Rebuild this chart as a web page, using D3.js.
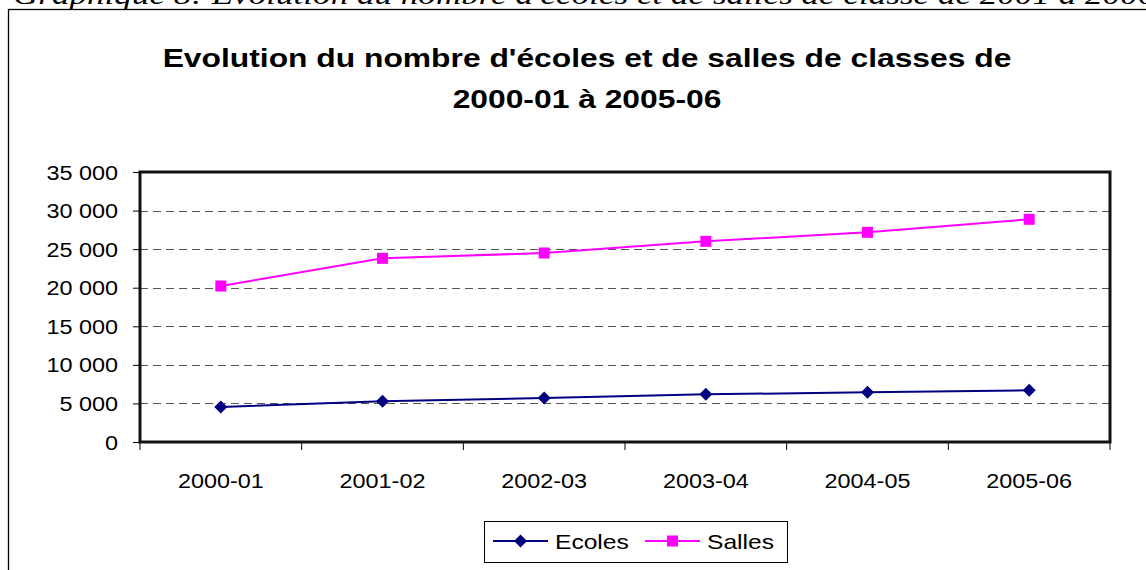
<!DOCTYPE html>
<html>
<head>
<meta charset="utf-8">
<script src="https://cdn.jsdelivr.net/npm/d3@7"></script>
<style>
  html, body { margin: 0; padding: 0; background: #fff; overflow: hidden; }
  svg { display: block; }
  text { font-family: "Liberation Sans", Arial, sans-serif; fill: #000; }
</style>
</head>
<body>
<svg id="chart" width="1146" height="570"></svg>
<script>
// ---- data ----
const categories = ["2000-01", "2001-02", "2002-03", "2003-04", "2004-05", "2005-06"];
const ecoles = [4540, 5270, 5700, 6180, 6440, 6700];
const salles = [20220, 23810, 24500, 26010, 27180, 28870];
const seriesNames = ["Ecoles", "Salles"];
const yTicks = [0, 5000, 10000, 15000, 20000, 25000, 30000, 35000];
const caption = "Graphique 8: Evolution du nombre d'écoles et de salles de classe de 2001 à 2006";
const titleLines = ["Evolution du nombre d'écoles et de salles de classes de", "2000-01 à 2005-06"];

// ---- layout ----
const W = 1146, H = 570;
const SX = 1.2; // horizontal glyph stretch of the original picture
const plot = { left: 140, right: 1110, top: 172, bottom: 442 };
const colors = { Ecoles: "#000080", Salles: "#FF00FF" };

const svg = d3.select("#chart");

// outer chart frame
svg.append("rect")
  .attr("x", 8.5).attr("y", 9.5).attr("width", W + 20).attr("height", H + 20)
  .attr("fill", "#fff").attr("stroke", "#000").attr("stroke-width", 1.3);

function stretchedText(g, x, y, str, size, anchor, opts = {}) {
  const t = g.append("text")
    .attr("transform", `translate(${x},${y}) scale(${opts.sx || SX},1)`)
    .attr("text-anchor", anchor)
    .style("font-size", size + "px")
    .text(str);
  if (opts.weight) t.style("font-weight", opts.weight);
  if (opts.family) t.style("font-family", opts.family);
  if (opts.italic) t.style("font-style", "italic");
  return t;
}
// caption (cut at the top, as in the original page)
stretchedText(svg, 13, 4, caption, 27, "start", { family: "'Liberation Serif', 'Times New Roman', serif", italic: true, sx: 1.3 });

// title
stretchedText(svg, 587, 67, titleLines[0], 26.5, "middle", { weight: "bold" });
stretchedText(svg, 587, 108, titleLines[1], 26.5, "middle", { weight: "bold" });

// scales
const x = d3.scaleBand().domain(categories).range([plot.left, plot.right]).padding(0);
const y = d3.scaleLinear().domain([0, 35000]).range([plot.bottom, plot.top]);
const cx = c => x(c) + x.bandwidth() / 2;

// gridlines
svg.append("g").selectAll("line")
  .data(yTicks.filter(v => v > 0 && v < 35000))
  .join("line")
  .attr("x1", plot.left).attr("x2", plot.right)
  .attr("y1", d => Math.round(y(d)) + 0.5).attr("y2", d => Math.round(y(d)) + 0.5)
  .attr("stroke", "#555").attr("stroke-width", 1.2)
  .attr("stroke-dasharray", "8,5");

// y axis
const fmt = v => d3.format(",")(v).replace(/,/g, " ");
const yAxis = svg.append("g")
  .attr("transform", `translate(${plot.left},0)`)
  .call(d3.axisLeft(y).tickValues(yTicks).tickSize(7).tickFormat(fmt));
yAxis.select(".domain").remove();
yAxis.selectAll(".tick line").attr("stroke", "#000").attr("stroke-width", 1);
yAxis.selectAll(".tick text")
  .attr("x", null).attr("dy", null)
  .attr("transform", `translate(-22,7) scale(${SX},1)`)
  .style("font-size", "19.5px").style("font-family", "'Liberation Sans', Arial, sans-serif")
  .attr("fill", "#000");

// x axis labels (centered in bands)
const xAxis = svg.append("g")
  .attr("transform", `translate(0,${plot.bottom})`)
  .call(d3.axisBottom(x).tickSize(0).tickPadding(0));
xAxis.select(".domain").remove();
xAxis.selectAll(".tick text")
  .attr("y", null).attr("dy", null)
  .attr("transform", `translate(0,46) scale(${SX},1)`)
  .style("font-size", "19.5px").style("font-family", "'Liberation Sans', Arial, sans-serif")
  .attr("fill", "#000");

// x tick marks at band boundaries
const bounds = categories.map(c => x(c)).concat([x(categories[categories.length - 1]) + x.bandwidth()]);
svg.append("g").selectAll("line")
  .data(bounds).join("line")
  .attr("x1", d => d).attr("x2", d => d)
  .attr("y1", plot.bottom).attr("y2", plot.bottom + 8)
  .attr("stroke", "#000").attr("stroke-width", 1);

// plot border
svg.append("rect")
  .attr("x", plot.left).attr("y", plot.top)
  .attr("width", plot.right - plot.left).attr("height", plot.bottom - plot.top)
  .attr("fill", "none").attr("stroke", "#111").attr("stroke-width", 3);

// lines
const line = d3.line().x((d, i) => cx(categories[i])).y(d => y(d));
const data = { Ecoles: ecoles, Salles: salles };
seriesNames.forEach(name => {
  svg.append("path")
    .datum(data[name])
    .attr("d", line)
    .attr("fill", "none")
    .attr("stroke", colors[name])
    .attr("stroke-width", 2);
});

// markers
const diamond = (px, py, r) => `M${px},${py - r}L${px + r},${py}L${px},${py + r}L${px - r},${py}Z`;
svg.append("g").selectAll("path")
  .data(ecoles).join("path")
  .attr("d", (d, i) => diamond(cx(categories[i]), y(d), 6.5))
  .attr("fill", colors.Ecoles);
svg.append("g").selectAll("rect")
  .data(salles).join("rect")
  .attr("x", (d, i) => cx(categories[i]) - 5.5)
  .attr("y", d => y(d) - 5.5)
  .attr("width", 11).attr("height", 11)
  .attr("fill", colors.Salles);

// legend
const lg = svg.append("g");
lg.append("rect")
  .attr("x", 484.5).attr("y", 521.5).attr("width", 303).attr("height", 41)
  .attr("fill", "#fff").attr("stroke", "#000").attr("stroke-width", 1);
const legendItems = [
  { name: seriesNames[0], x0: 493, x1: 548, tx: 555 },
  { name: seriesNames[1], x0: 645, x1: 700, tx: 707 }
];
legendItems.forEach(it => {
  const my = 541;
  lg.append("line").attr("x1", it.x0).attr("x2", it.x1).attr("y1", my).attr("y2", my)
    .attr("stroke", colors[it.name]).attr("stroke-width", 2);
  const mx = (it.x0 + it.x1) / 2;
  if (it.name === "Ecoles") {
    lg.append("path").attr("d", diamond(mx, my, 6.5)).attr("fill", colors.Ecoles);
  } else {
    lg.append("rect").attr("x", mx - 5.5).attr("y", my - 5.5).attr("width", 11).attr("height", 11)
      .attr("fill", colors.Salles);
  }
  stretchedText(lg, it.tx, my + 7.5, it.name, 20.5, "start");
});
</script>
</body>
</html>
